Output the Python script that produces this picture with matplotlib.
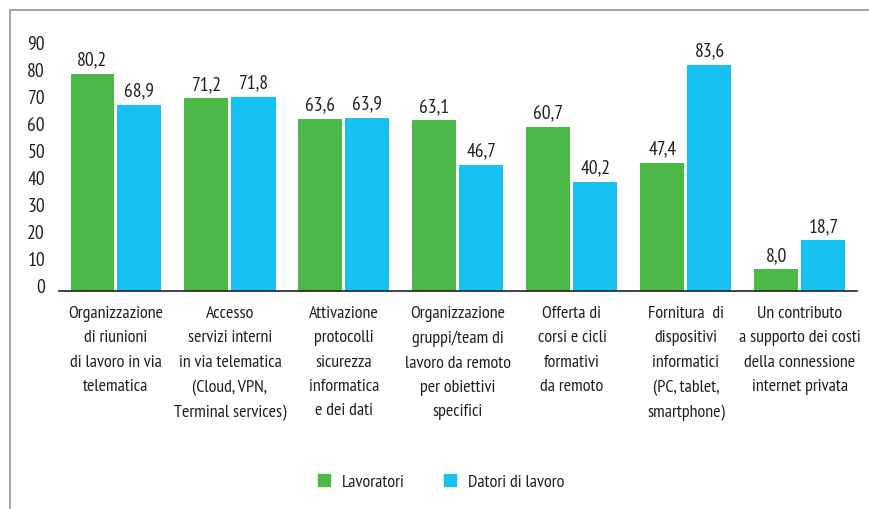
import matplotlib
matplotlib.use("Agg")
import matplotlib.pyplot as plt
from matplotlib.transforms import ScaledTranslation
from matplotlib.lines import Line2D
import numpy as np

categories = [
    "Organizzazione\ndi riunioni\ndi lavoro in via\ntelematica",
    "Accesso\nservizi interni\nin via telematica\n(Cloud, VPN,\nTerminal services)",
    "Attivazione\nprotocolli\nsicurezza\ninformatica\ne dei dati",
    "Organizzazione\ngruppi/team di\nlavoro da remoto\nper obiettivi\nspecifici",
    "Offerta di\ncorsi e cicli\nformativi\nda remoto",
    "Fornitura  di\ndispositivi\ninformatici\n(PC, tablet,\nsmartphone)",
    "Un contributo\na supporto dei costi\ndella connessione\ninternet privata",
]
lavoratori = [80.2, 71.2, 63.6, 63.1, 60.7, 47.4, 8.0]
datori = [68.9, 71.8, 63.9, 46.7, 40.2, 83.6, 18.7]
series_names = ["Lavoratori", "Datori di lavoro"]
yticks = [0, 10, 20, 30, 40, 50, 60, 70, 80, 90]

GREEN = "#4cb848"
CYAN = "#17c1f2"
TXT = "#231f20"

plt.rcParams['font.family'] = ['PT Sans Narrow', 'Roboto Condensed', 'DejaVu Sans']

fig = plt.figure(figsize=(8.7, 5.1), dpi=100)
ax = fig.add_axes([59/870, (510-292)/510, 798/870, 257/510])

x = np.arange(len(categories))
w = 44/114
off = 23.5/114
b1 = ax.bar(x - off, lavoratori, w, color=GREEN)
b2 = ax.bar(x + off, datori, w, color=CYAN)

for bars, vals in ((b1, lavoratori), (b2, datori)):
    for r, v in zip(bars, vals):
        ax.annotate(f"{v:.1f}".replace(".", ","), (r.get_x() + r.get_width()/2, v),
                    xytext=(0, 4), textcoords="offset points", ha="center", va="bottom",
                    fontsize=14, color=TXT)

ax.set_xlim(-0.5, len(categories) - 0.5)
ax.set_ylim(0, 95)
ax.set_yticks(yticks)
ax.set_yticklabels([str(t) for t in yticks], fontsize=14, color=TXT)
ax.set_xticks(x)
ax.set_xticklabels(categories, fontsize=13, color=TXT, linespacing=1.7, va="top")
ax.tick_params(axis="both", length=0)
ax.tick_params(axis="y", pad=10)
ax.tick_params(axis="x", pad=10)
for lab in ax.get_yticklabels():
    lab.set_transform(lab.get_transform() + ScaledTranslation(0, 4/72, fig.dpi_scale_trans))

for s in ("top", "right", "left"):
    ax.spines[s].set_visible(False)
ax.spines["bottom"].set_color("#231f20")
ax.spines["bottom"].set_linewidth(1.2)

# frame lines
fig.add_artist(Line2D([10/870, 10/870], [0, 1 - 11/510], transform=fig.transFigure,
                      color="#a6a6a6", lw=1.5))
fig.add_artist(Line2D([10/870, 1], [1 - 11/510, 1 - 11/510], transform=fig.transFigure,
                      color="#a6a6a6", lw=1.5))

handles = [Line2D([], [], marker="s", linestyle="none", markersize=9, color=GREEN),
           Line2D([], [], marker="s", linestyle="none", markersize=9, color=CYAN)]
fig.legend(handles, series_names, loc="center", bbox_to_anchor=(440/870, 1 - 483/510),
           ncol=2, frameon=False, fontsize=13, handletextpad=0.5, columnspacing=2.0,
           labelcolor=TXT, handlelength=1.0)

fig.savefig("out.png", dpi=100)
